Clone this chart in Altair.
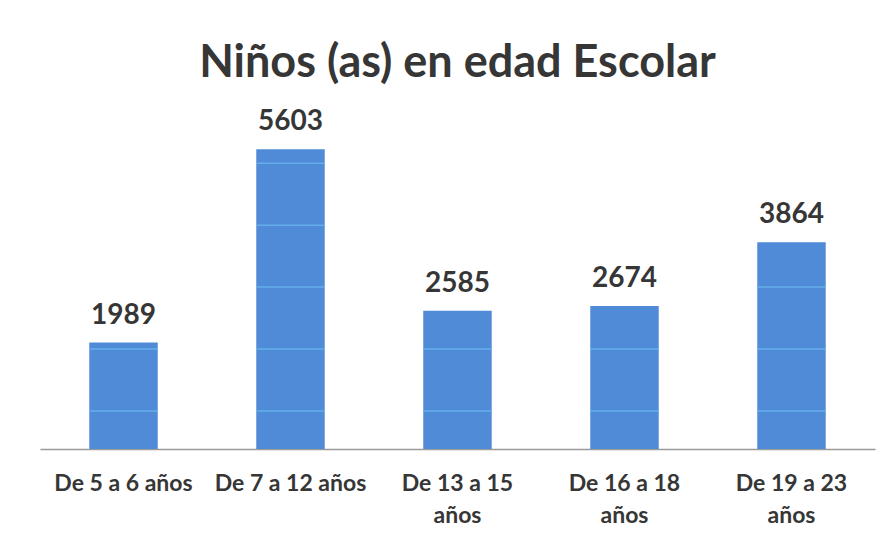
import json
import altair as alt
import pandas as pd

categories = ["De 5 a 6 años", "De 7 a 12 años", "De 13 a 15 años", "De 16 a 18 años", "De 19 a 23 años"]
label_lines = [["De 5 a 6 años"], ["De 7 a 12 años"], ["De 13 a 15", "años"], ["De 16 a 18", "años"], ["De 19 a 23", "años"]]
values = [1989, 5603, 2585, 2674, 3864]
grid_values = [710, 1870, 3030, 4180, 5340]
title_text = "Niños (as) en edad Escolar"

df = pd.DataFrame({"cat": categories, "value": values})
grid_rows = [{"cat": c, "g": g} for c, v in zip(categories, values) for g in grid_values if g < v]
gdf = pd.DataFrame(grid_rows)

mapping = {c: l for c, l in zip(categories, label_lines)}
label_expr = json.dumps(mapping) + "[datum.label]"

FONT = "Lato"
TXT = "#363636"

x_enc = alt.X("cat:N", sort=categories, title=None,
              scale=alt.Scale(paddingInner=0.59, paddingOuter=0.295),
              axis=alt.Axis(labelAngle=0, labelFontSize=23, labelFont=FONT, labelFontWeight="bold",
                            labelColor=TXT, labelPadding=23, labelLineHeight=32, ticks=False,
                            domainColor="#9a9a9a", domainWidth=1.5, labelExpr=label_expr))
y_scale = alt.Scale(domain=[0, 6000])

bars = alt.Chart(df).mark_bar(color="#4f8bd6").encode(
    x=x_enc,
    y=alt.Y("value:Q", scale=y_scale, axis=None),
)
grid = alt.Chart(gdf).mark_tick(color="#6cbcf2", thickness=1.5, size=68).encode(
    x=alt.X("cat:N", sort=categories),
    y=alt.Y("g:Q", scale=y_scale),
)
labels = alt.Chart(df).mark_text(baseline="alphabetic", dy=-19, fontSize=28, font=FONT,
                                 fontWeight="bold", color=TXT).encode(
    x=alt.X("cat:N", sort=categories),
    y=alt.Y("value:Q", scale=y_scale),
    text="value:Q",
)

chart = alt.layer(bars, grid, labels).properties(
    width=835, height=321,
    padding={"left": 32, "top": 120, "right": 13, "bottom": 93},
    autosize=alt.AutoSizeParams(type="none"),
    title=alt.TitleParams(title_text, fontSize=45, font=FONT, fontWeight="bold", color=TXT,
                          anchor="middle", offset=22),
).configure(background="white").configure_view(strokeWidth=0, stroke=None)

chart.save("out.html", embed_options={"renderer": "svg", "actions": False})
